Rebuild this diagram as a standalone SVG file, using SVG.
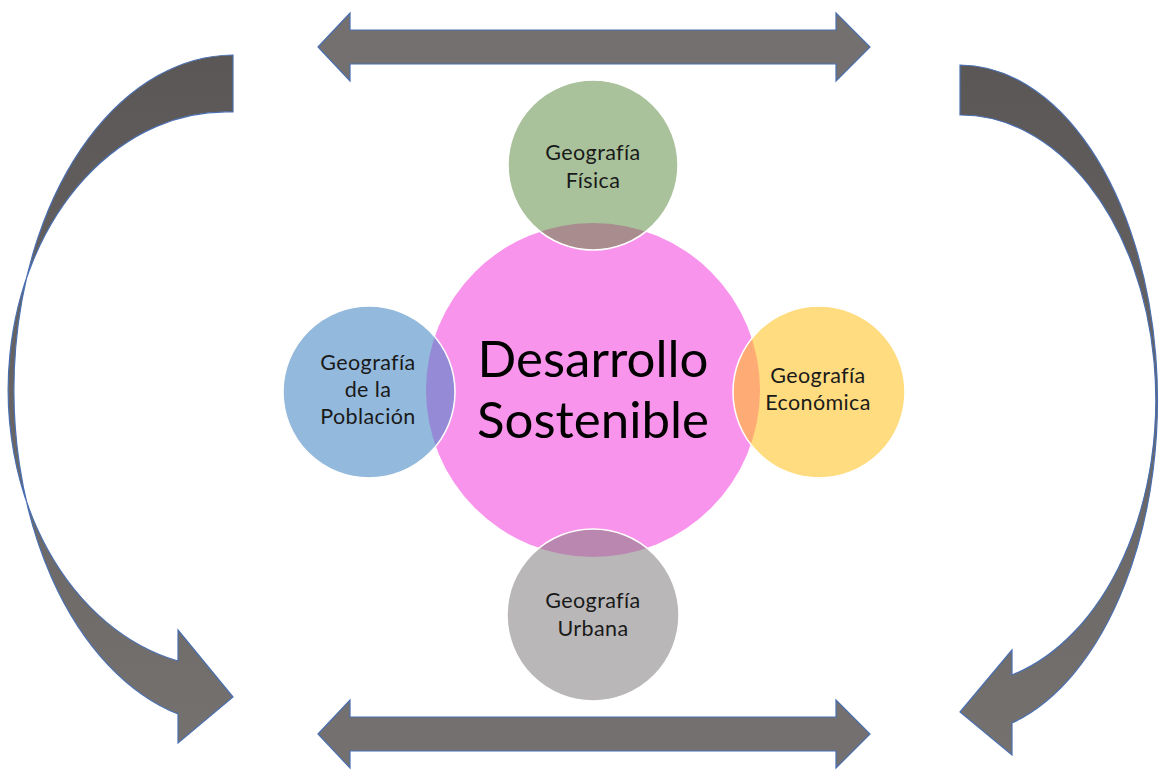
<svg xmlns="http://www.w3.org/2000/svg" width="1171" height="770" viewBox="0 0 1171 770">
<style>
.arrow{stroke:#4a6fb0;stroke-width:1.2;stroke-linejoin:miter}
.straight{fill:#74706f}
.small{stroke:#ffffff;stroke-width:1.5}
.lbl{font-family:Lato,"Open Sans","Liberation Sans",sans-serif;font-size:21.5px;letter-spacing:0.4px;fill:#1a1a1a;text-anchor:middle}
.big{font-family:Lato,"Open Sans","Liberation Sans",sans-serif;font-size:51px;fill:#000;text-anchor:middle}
</style>
<defs>
<linearGradient id="curveGrad" x1="0" y1="0" x2="0" y2="1">
<stop offset="0" stop-color="#5b5757"/>
<stop offset="1" stop-color="#75716f"/>
</linearGradient>
<clipPath id="pinkClip"><circle cx="593" cy="390" r="167"/></clipPath>
</defs>
<rect width="1171" height="770" fill="#ffffff"/>
<g id="connectors">
<path class="arrow straight" d="M318,47 L350,13 L350,30 L836,30 L836,13 L870,47 L836,81 L836,64 L350,64 L350,81 Z"/>
<path class="arrow straight" d="M318,734 L350,700 L350,717 L836,717 L836,700 L870,734 L836,768 L836,751 L350,751 L350,768 Z"/>
<path class="arrow" fill="url(#curveGrad)" d="M233,55 A220,335 0 0 0 178,714 L178,743 L233,697 L178,630 L178,661 A218,278 0 0 1 233,112 Z"/>
<path class="arrow" fill="url(#curveGrad)" d="M960,65 A198,335 0 0 1 1012,723 L1012,755 L960,712 L1012,650 L1012,675 A195,285 0 0 0 960,115 Z"/>
</g>
<g id="node-desarrollo">
<circle cx="593" cy="390" r="167" fill="#f994ec"/>
<text class="big" x="593" y="377">Desarrollo</text>
<text class="big" x="593" y="438">Sostenible</text>
</g>
<g id="node-fisica">
<circle cx="593" cy="165" r="85" fill="#a9c29b"/>
<circle cx="593" cy="165" r="85" fill="#a88c8e" clip-path="url(#pinkClip)"/>
<circle class="small" cx="593" cy="165" r="85" fill="none"/>
<text class="lbl" x="593" y="160">Geografía</text>
<text class="lbl" x="593" y="188">Física</text>
</g>
<g id="node-poblacion">
<circle cx="369" cy="392" r="86" fill="#93b9dc"/>
<circle cx="369" cy="392" r="86" fill="#948ad5" clip-path="url(#pinkClip)"/>
<circle class="small" cx="369" cy="392" r="86" fill="none"/>
<text class="lbl" x="368" y="370">Geografía</text>
<text class="lbl" x="368" y="397">de la</text>
<text class="lbl" x="368" y="424">Población</text>
</g>
<g id="node-economica">
<circle cx="819" cy="392" r="86" fill="#ffdc7f"/>
<circle cx="819" cy="392" r="86" fill="#ffab75" clip-path="url(#pinkClip)"/>
<circle class="small" cx="819" cy="392" r="86" fill="none"/>
<text class="lbl" x="818" y="383">Geografía</text>
<text class="lbl" x="818" y="410">Económica</text>
</g>
<g id="node-urbana">
<circle cx="593" cy="615" r="86" fill="#b9b7b8"/>
<circle cx="593" cy="615" r="86" fill="#b987b0" clip-path="url(#pinkClip)"/>
<circle class="small" cx="593" cy="615" r="86" fill="none"/>
<text class="lbl" x="593" y="608">Geografía</text>
<text class="lbl" x="593" y="636">Urbana</text>
</g>
</svg>
